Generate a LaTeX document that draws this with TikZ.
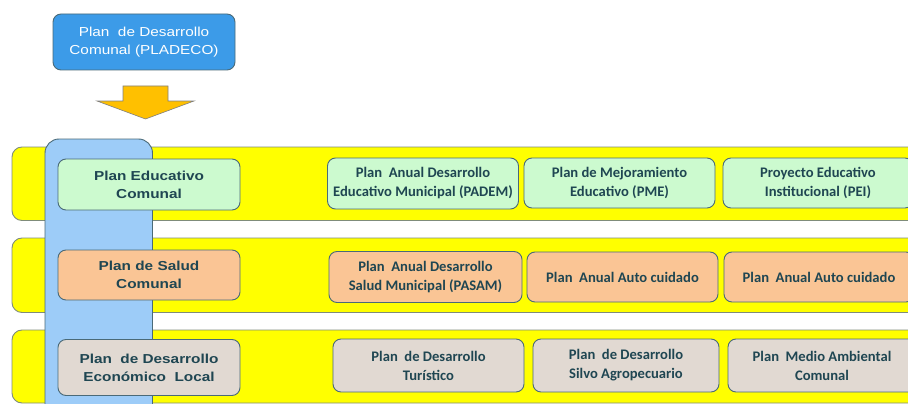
\documentclass[tikz,border=0pt]{standalone}
\usepackage{fontspec}
\setmainfont{Liberation Sans}
\newfontfamily\arialw[FakeStretch=1.18]{Liberation Sans}
\newfontfamily\calib{Carlito}
\definecolor{bandyellow}{HTML}{FFFF00}
\definecolor{bandline}{HTML}{7F8C7A}
\definecolor{colblue}{HTML}{9DCCF8}
\definecolor{topblue}{HTML}{3C9BE8}
\definecolor{boxline}{HTML}{4A6A78}
\definecolor{txt}{HTML}{1F4652}
\definecolor{greenf}{HTML}{CCFACF}
\definecolor{orangef}{HTML}{FAC595}
\definecolor{grayf}{HTML}{E1D9D2}
\definecolor{arrowf}{HTML}{FFC000}
\tikzset{
  band/.style={fill=bandyellow, draw=bandline, line width=0.9pt, rounded corners=10pt},
  column/.style={fill=colblue, draw=boxline, line width=0.9pt, rounded corners=14pt},
  downarrow/.style={fill=arrowf, draw=gray, line width=0.6pt, line join=miter},
  topbox/.style={fill=topblue, draw=boxline, line width=0.9pt, rounded corners=8pt,
    text=white, font=\arialw\fontsize{13}{18}\selectfont, align=center, inner sep=0pt},
  lbox/.style={draw=boxline, line width=0.9pt, rounded corners=8pt, minimum width=182pt,
    text=txt, font=\arialw\bfseries\fontsize{13}{18}\selectfont, align=center, inner sep=0pt},
  rbox/.style={draw=boxline, line width=0.9pt, rounded corners=8pt,
    text=txt, font=\calib\bfseries\fontsize{14.6}{19}\selectfont, align=center, inner sep=0pt},
}
\begin{document}
\begin{tikzpicture}[x=1pt,y=-1pt]
\useasboundingbox (0,0) rectangle (908,404);
\clip (0,0) rectangle (908,404);
% top box
\node[topbox, minimum width=182pt, minimum height=56pt] (pladeco) at (144,42) {Plan\ \ de Desarrollo\\Comunal (PLADECO)};
% arrow
\path[downarrow] (123,86) -- (168,86) -- (168,101) -- (194,101) -- (145.5,119) -- (97,101) -- (123,101) -- cycle;
% bands
\path[band] (12,147) rectangle (930,220.5);
\path[band] (12,238) rectangle (930,312.5);
\path[band] (12,330) rectangle (930,403);
% column
\path[column] (45,139) rectangle (152.5,430);
% left boxes
\node[lbox, fill=greenf, minimum height=51pt] (edu) at (149,184.5) {Plan Educativo\\Comunal};
\node[lbox, fill=orangef, minimum height=50pt] (sal) at (149,275) {Plan de Salud\\Comunal};
\node[lbox, fill=grayf, minimum height=56pt] (eco) at (149,367.5) {Plan\ \ de Desarrollo\\Económico\ \ Local};
% row 1
\node[rbox, fill=greenf, minimum width=191pt, minimum height=51pt] (padem) at (423,183.5) {Plan\ \ Anual Desarrollo\\Educativo Municipal (PADEM)};
\node[rbox, fill=greenf, minimum width=191pt, minimum height=50pt] (pme) at (619.5,183) {Plan de Mejoramiento\\Educativo (PME)};
\node[rbox, fill=greenf, minimum width=190pt, minimum height=50pt] (pei) at (818,183) {Proyecto Educativo\\Institucional (PEI)};
% row 2
\node[rbox, fill=orangef, minimum width=193pt, minimum height=51pt] (pasam) at (425.5,277) {Plan\ \ Anual Desarrollo\\Salud Municipal (PASAM)};
\node[rbox, fill=orangef, minimum width=191pt, minimum height=50pt] (auto1) at (622.5,277) {Plan\ \ Anual Auto cuidado};
\node[rbox, fill=orangef, minimum width=190pt, minimum height=50pt] (auto2) at (819,277) {Plan\ \ Anual Auto cuidado};
% row 3
\node[rbox, fill=grayf, minimum width=191pt, minimum height=53pt] (tur) at (428.5,365.5) {Plan\ \ de Desarrollo\\Turístico};
\node[rbox, fill=grayf, minimum width=186pt, minimum height=53pt] (silvo) at (626,365.5) {Plan\ \ de Desarrollo\\Silvo Agropecuario};
\node[rbox, fill=grayf, minimum width=188pt, minimum height=53pt] (amb) at (822,365.5) {Plan\ \ Medio Ambiental\\Comunal};
\end{tikzpicture}
\end{document}
